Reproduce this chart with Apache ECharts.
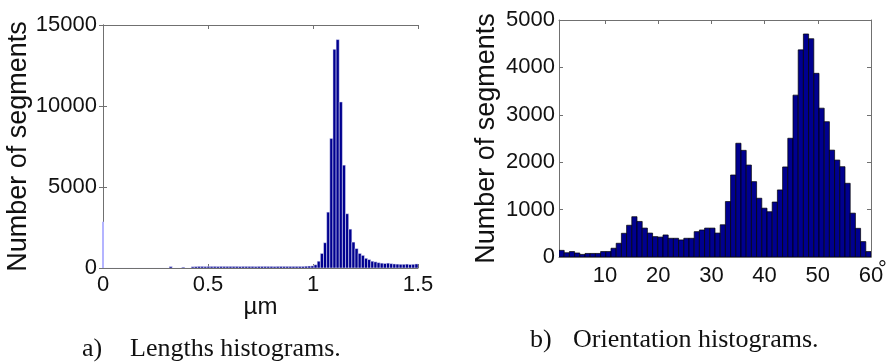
<!doctype html>
<html>
    <head>
        <meta charset="utf-8">
        <style>
            html, body { margin: 0; padding: 0; background: #fff; }
            #main { width: 888px; height: 362px; }
        </style>
    </head>
    <body>
        <div id="main"></div>
        <script src="https://cdn.jsdelivr.net/npm/echarts@6/dist/echarts.min.js"></script>
        <script>
            var chart = echarts.init(document.getElementById('main'));

            // a) lengths histogram, 100 bins of 0.015 um from 0
            var lenBinStart = 0;
            var lenBinWidth = 0.015;
            var lenCounts = [
                0, 0, 0, 0, 0, 0, 0, 0, 0, 0,
                0, 0, 0, 0, 0, 0, 0, 0, 0, 0,
                0, 90, 0, 0, 0, 50, 0, 0, 80, 90,
                100, 100, 95, 100, 100, 100, 95, 100, 100, 100,
                100, 100, 100, 95, 100, 100, 100, 100, 95, 100,
                100, 100, 100, 100, 95, 100, 100, 100, 100, 100,
                100, 100, 100, 100, 110, 120, 130, 200, 420, 900,
                1560, 3450, 8000, 13500, 14100, 10250, 6350, 3350, 2400, 1600,
                1200, 900, 780, 600, 520, 420, 380, 330, 300, 280,
                300, 270, 250, 240, 230, 230, 240, 220, 230, 250
            ];
            var lenZeroSpike = 2850;
            var lenTicks = [0, 0.5, 1, 1.5];

            // b) orientation histogram, 60 bins between oriMin and oriMax degrees
            var oriMin = 1.35;
            var oriMax = 60;
            var oriCounts = [
                140, 90, 115, 85, 55, 75, 75, 75, 115, 115,
                185, 290, 500, 670, 850, 750, 610, 505, 430, 420,
                465, 395, 395, 360, 395, 395, 535, 570, 610, 610,
                505, 680, 1170, 1730, 2400, 2250, 1940, 1590, 1240, 1030,
                955, 1160, 1415, 1900, 2505, 3415, 4370, 4705, 4605, 3875,
                3140, 2855, 2255, 2045, 1905, 1555, 925, 605, 325, 115
            ];
            var oriTicks = [10, 20, 30, 40, 50, 60];

            var lenData = lenCounts.map(function (c, i) {
                return [lenBinStart + i * lenBinWidth, lenBinStart + (i + 1) * lenBinWidth, c];
            });
            var oriWidth = (oriMax - oriMin) / oriCounts.length;
            var oriData = oriCounts.map(function (c, i) {
                return [oriMin + i * oriWidth, oriMin + (i + 1) * oriWidth, c];
            });

            var FONT = 'Liberation Sans, Arial, sans-serif';
            var SERIF = '26px Liberation Serif, Times New Roman, serif';
            var BAR = '#00008f';
            var BOX = '#707070';

            function histItem(fill, stroke, lw) {
                return function (params, api) {
                    var p0 = api.coord([api.value(0), api.value(2)]);
                    var p1 = api.coord([api.value(1), 0]);
                    return {
                        type: 'rect',
                        shape: { x: p0[0], y: p0[1], width: p1[0] - p0[0], height: p1[1] - p0[1] },
                        style: { fill: fill, stroke: stroke, lineWidth: lw }
                    };
                };
            }

            function mirrorX(grid, min, max, ticks) {
                return {
                    type: 'value', gridIndex: grid, position: 'top', min: min, max: max,
                    axisLine: { show: true, onZero: false, lineStyle: { color: BOX } },
                    axisTick: { show: true, inside: true, length: 4, customValues: ticks, lineStyle: { color: BOX } },
                    axisLabel: { show: false },
                    splitLine: { show: false }
                };
            }
            function mirrorY(grid, max, interval) {
                return {
                    type: 'value', gridIndex: grid, position: 'right', min: 0, max: max, interval: interval,
                    axisLine: { show: true, lineStyle: { color: BOX } },
                    axisTick: { show: true, inside: true, length: 4, lineStyle: { color: BOX } },
                    axisLabel: { show: false },
                    splitLine: { show: false }
                };
            }

            function plain(v) { return String(v); }
            var tickLabel = { color: '#111', fontFamily: FONT, fontSize: 22, formatter: plain };
            var nameStyle = { color: '#111', fontFamily: FONT, fontSize: 27 };

            chart.setOption({
                animation: false,
                grid: [
                    { left: 103, right: 470, top: 25, bottom: 94 },
                    { left: 559, right: 17, top: 20, bottom: 105 }
                ],
                xAxis: [
                    {
                        type: 'value', gridIndex: 0, min: 0, max: 1.5,
                        name: 'µm', nameLocation: 'middle', nameGap: 27, nameMoveOverlap: false,
                        nameTextStyle: { color: '#111', fontFamily: FONT, fontSize: 24, verticalAlign: 'top' },
                        axisLine: { show: true, onZero: false, lineStyle: { color: BOX } },
                        axisTick: { show: true, inside: true, length: 4, customValues: lenTicks, lineStyle: { color: BOX } },
                        axisLabel: Object.assign({ customValues: lenTicks, margin: 6 }, tickLabel),
                        splitLine: { show: false }
                    },
                    mirrorX(0, 0, 1.5, lenTicks),
                    {
                        type: 'value', gridIndex: 1, min: oriMin, max: oriMax,
                        axisLine: { show: true, onZero: false, lineStyle: { color: BOX } },
                        axisTick: { show: true, inside: true, length: 4, customValues: oriTicks, lineStyle: { color: BOX } },
                        axisLabel: Object.assign({ customValues: oriTicks, margin: 8 }, tickLabel),
                        splitLine: { show: false }
                    },
                    mirrorX(1, oriMin, oriMax, oriTicks)
                ],
                yAxis: [
                    {
                        type: 'value', gridIndex: 0, min: 0, max: 15000, interval: 5000,
                        name: 'Number of segments', nameLocation: 'middle', nameGap: 68,
                        nameTextStyle: nameStyle,
                        axisLine: { show: true, lineStyle: { color: BOX } },
                        axisTick: { show: true, inside: true, length: 4, lineStyle: { color: BOX } },
                        axisLabel: Object.assign({ margin: 6 }, tickLabel),
                        splitLine: { show: false }
                    },
                    mirrorY(0, 15000, 5000),
                    {
                        type: 'value', gridIndex: 1, min: 0, max: 5000, interval: 1000,
                        name: 'Number of segments', nameLocation: 'middle', nameGap: 59,
                        nameTextStyle: nameStyle,
                        axisLine: { show: true, lineStyle: { color: BOX } },
                        axisTick: { show: true, inside: true, length: 4, lineStyle: { color: BOX } },
                        axisLabel: Object.assign({ margin: 4 }, tickLabel),
                        splitLine: { show: false }
                    },
                    mirrorY(1, 5000, 1000)
                ],
                series: [
                    {
                        type: 'custom', xAxisIndex: 0, yAxisIndex: 0, clip: true,
                        renderItem: histItem(BAR, '#f0f0ff', 0.5),
                        encode: { x: [0, 1], y: 2 },
                        data: lenData
                    },
                    {
                        type: 'line', xAxisIndex: 0, yAxisIndex: 0, symbol: 'none',
                        lineStyle: { color: '#b4b4ff', width: 2 },
                        data: [[0, 0], [0, lenZeroSpike]]
                    },
                    {
                        type: 'custom', xAxisIndex: 2, yAxisIndex: 2, clip: true,
                        renderItem: histItem(BAR, '#000', 0.7),
                        encode: { x: [0, 1], y: 2 },
                        data: oriData
                    }
                ],
                graphic: [
                    { type: 'text', left: 878, top: 259, style: { text: '°', font: '22px ' + FONT, fill: '#111' } },
                    { type: 'text', left: 82, top: 336, style: { text: 'a)', font: SERIF, fill: '#111' } },
                    { type: 'text', left: 130, top: 336, style: { text: 'Lengths histograms.', font: SERIF, fill: '#111' } },
                    { type: 'text', left: 530, top: 327, style: { text: 'b)', font: SERIF, fill: '#111' } },
                    { type: 'text', left: 573, top: 327, style: { text: 'Orientation histograms.', font: SERIF, fill: '#111' } }
                ]
            });

            window.addEventListener('resize', function () {
                chart.resize();
            });
        </script>
    </body>
</html>
